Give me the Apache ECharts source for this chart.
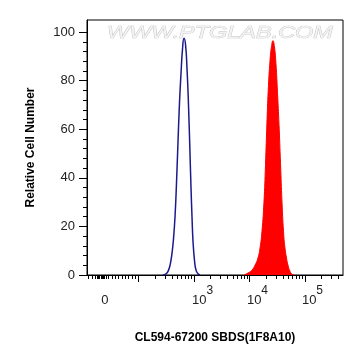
<!DOCTYPE html>
<html>
<head>
<meta charset="utf-8">
<script src="https://cdn.jsdelivr.net/npm/echarts@6/dist/echarts.min.js"></script>
<style>
html, body { margin: 0; padding: 0; background: #fff; }
#chart { width: 364px; height: 363px; }
</style>
</head>
<body>
<div id="chart"></div>
<script>
// x is in display decades (3 = 10^3, 4 = 10^4 ...), y is relative cell number
var blueX = [2.441, 2.495, 2.532, 2.568, 2.604, 2.631, 2.658, 2.685, 2.712, 2.739, 2.766, 2.793, 2.820,
  2.847, 2.874, 2.901, 2.928, 2.946, 2.964, 2.982, 3.009, 3.036, 3.072, 3.108];
var blueY = [0, 0.5, 1.5, 4, 9, 15, 24, 38, 55, 71, 83, 93, 97.5,
  95, 85, 70, 50, 36, 24, 14, 6, 2, 0.5, 0];

var redX = [3.901, 3.973, 4.045, 4.099, 4.153, 4.189, 4.225, 4.261, 4.288, 4.315, 4.342, 4.369, 4.396, 4.423,
  4.450, 4.477, 4.505, 4.532, 4.559, 4.586, 4.613, 4.640, 4.667, 4.694, 4.730, 4.766, 4.802];
var redY = [0, 0.8, 2, 4, 7, 11, 18, 30, 45, 63, 78, 88, 94, 96.5,
  94, 87, 75, 62, 46, 30, 18, 11, 7, 4, 1.5, 0.3, 0];

var yTicks = [0, 20, 40, 60, 80, 100];
var yMinorTicks = [4, 8, 12, 16, 24, 28, 32, 36, 44, 48, 52, 56, 64, 68, 72, 76, 84, 88, 92, 96];

var xMajorTicks = [2, 3, 4, 5];
// ticks of the linear part near zero
var xLinearTicks = [1.10, 1.16, 1.22, 1.25, 1.28, 1.30, 1.32, 1.34, 1.36, 1.39, 1.42,
  1.46, 1.52, 1.58, 1.64, 1.70, 1.76, 1.82, 1.88, 1.94];
var xLabelPos = [1.396, 3.153, 4.144, 5.135];
var xLabelBase = ['0', '10', '10', '10'];
var xLabelExp = ['', '3', '4', '5'];

var xMin = 1.072, xMax = 5.685;

// log minor ticks for each decade
var xMinorTicks = xLinearTicks.slice();
xMajorTicks.forEach(function (d) {
  for (var k = 2; k <= 9; k++) {
    var v = d + Math.log10(k);
    if (v < xMax) xMinorTicks.push(v);
  }
});

var blueData = blueX.map(function (x, i) { return [x, blueY[i]]; });
var redData = redX.map(function (x, i) { return [x, redY[i]]; });

function labelIndex(v) {
  var best = 0;
  for (var i = 1; i < xLabelPos.length; i++) {
    if (Math.abs(xLabelPos[i] - v) < Math.abs(xLabelPos[best] - v)) best = i;
  }
  return best;
}

var font = 'Liberation Sans, Arial, sans-serif';
var chart = echarts.init(document.getElementById('chart'));

var option = {
  animation: false,
  grid: {
    left: 87, right: 21, top: 20, bottom: 88,
    show: true, borderColor: '#000', borderWidth: 1
  },
  graphic: [{
    type: 'text',
    x: 107, y: 25,
    scaleX: 1.38,
    z: 1,
    style: {
      text: 'WWW.PTGLAB.COM',
      fontSize: 17,
      fontStyle: 'italic',
      fontFamily: font,
      fill: '#f3f3f3',
      stroke: '#c0c0c0',
      lineWidth: 0.7
    }
  }],
  xAxis: [
    {
      type: 'value', min: xMin, max: xMax, position: 'bottom',
      name: 'CL594-67200 SBDS(1F8A10)',
      nameLocation: 'middle', nameGap: 57,
      nameTextStyle: { fontWeight: 'bold', fontSize: 12, color: '#000', fontFamily: font },
      axisLine: { show: true, lineStyle: { color: '#000' } },
      axisTick: { show: true, length: 7, customValues: xMajorTicks, lineStyle: { color: '#000' } },
      axisLabel: { show: false },
      splitLine: { show: false }
    },
    {
      type: 'value', min: xMin, max: xMax, position: 'bottom',
      axisLine: { show: false },
      axisTick: { show: true, length: 4, customValues: xMinorTicks, lineStyle: { color: '#000' } },
      axisLabel: { show: false },
      splitLine: { show: false }
    },
    {
      type: 'value', min: xMin, max: xMax, position: 'bottom',
      axisLine: { show: false },
      axisTick: { show: false },
      axisLabel: {
        customValues: xLabelPos,
        margin: 10,
        hideOverlap: false,
        formatter: function (v) {
          var i = labelIndex(v);
          return '{b|' + xLabelBase[i] + '}' + (xLabelExp[i] ? '{e|' + xLabelExp[i] + '}' : '');
        },
        rich: {
          b: { fontSize: 13, color: '#222', fontFamily: font, lineHeight: 22, verticalAlign: 'bottom' },
          e: { fontSize: 12, color: '#222', fontFamily: font, lineHeight: 22, verticalAlign: 'top' }
        }
      },
      splitLine: { show: false }
    }
  ],
  yAxis: [
    {
      type: 'value', min: 0, max: 105, position: 'left',
      name: 'Relative Cell Number',
      nameLocation: 'middle', nameGap: 50,
      nameTextStyle: { fontWeight: 'bold', fontSize: 12, color: '#000', fontFamily: font },
      axisLine: { show: true, lineStyle: { color: '#000' } },
      axisTick: { show: true, length: 8, customValues: yTicks, lineStyle: { color: '#000' } },
      axisLabel: { customValues: yTicks, fontSize: 13, color: '#222', fontFamily: font, margin: 12 },
      splitLine: { show: false }
    },
    {
      type: 'value', min: 0, max: 105, position: 'left',
      axisLine: { show: false },
      axisTick: { show: true, length: 4, customValues: yMinorTicks, lineStyle: { color: '#000' } },
      axisLabel: { show: false },
      splitLine: { show: false }
    }
  ],
  series: [
    {
      name: 'isotype',
      type: 'line',
      data: blueData,
      smooth: true,
      showSymbol: false,
      z: 3,
      lineStyle: { color: '#1a1a8c', width: 1.5 }
    },
    {
      name: 'SBDS',
      type: 'line',
      data: redData,
      smooth: true,
      showSymbol: false,
      z: 2,
      lineStyle: { color: '#ff0000', width: 1 },
      areaStyle: { color: '#ff0000', opacity: 1 }
    }
  ]
};

chart.setOption(option);
</script>
</body>
</html>
